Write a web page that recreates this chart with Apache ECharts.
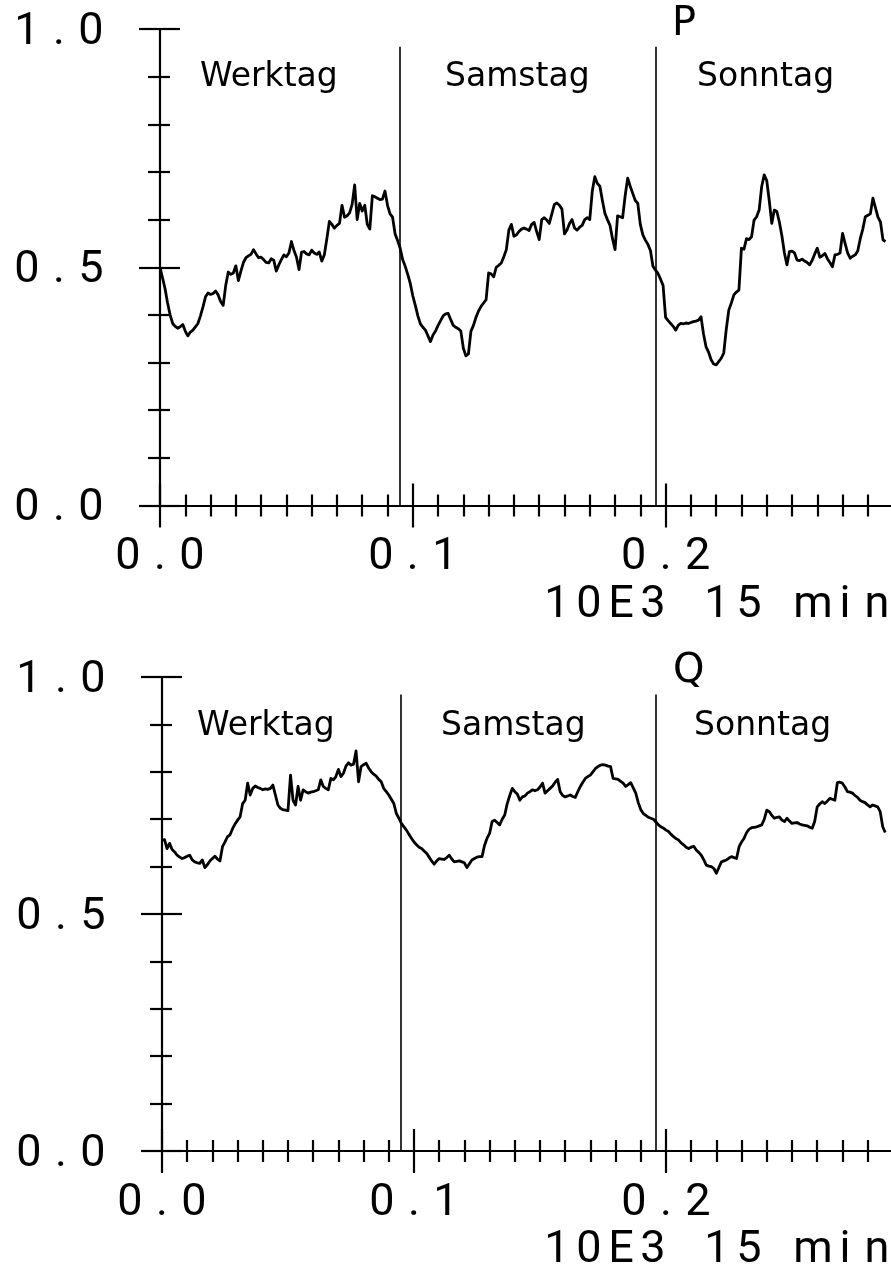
<!DOCTYPE html>
<html>
<head>
<meta charset="utf-8">
<script src="https://cdn.jsdelivr.net/npm/echarts@6/dist/echarts.min.js"></script>
<style>
  html, body { margin: 0; padding: 0; background: #fff; }
  #chart { width: 891px; height: 1271px; }
</style>
</head>
<body>
<div id="chart"></div>
<script>
// Normalised load profile, one value per quarter hour over three days (P: active, Q: reactive)
const seriesP = [
  0.500,0.478,0.455,0.425,0.400,0.382,0.376,0.372,0.375,0.380,0.366,0.356,
  0.364,0.368,0.375,0.382,0.398,0.417,0.438,0.446,0.443,0.445,0.450,0.442,
  0.428,0.420,0.462,0.490,0.485,0.488,0.503,0.472,0.492,0.510,0.520,0.524,
  0.527,0.537,0.528,0.520,0.521,0.516,0.510,0.509,0.518,0.515,0.492,0.505,
  0.516,0.526,0.522,0.530,0.554,0.535,0.521,0.495,0.532,0.533,0.528,0.526,
  0.536,0.530,0.527,0.532,0.513,0.526,0.560,0.596,0.590,0.582,0.588,0.592,
  0.630,0.605,0.608,0.614,0.632,0.673,0.600,0.634,0.618,0.630,0.590,0.580,
  0.650,0.648,0.645,0.642,0.643,0.660,0.630,0.612,0.605,0.570,0.556,0.540,
  0.516,0.502,0.485,0.466,0.440,0.420,0.398,0.381,0.374,0.368,0.356,0.344,
  0.358,0.366,0.378,0.388,0.398,0.402,0.403,0.390,0.378,0.374,0.371,0.366,
  0.330,0.314,0.318,0.366,0.378,0.395,0.408,0.418,0.425,0.432,0.488,0.486,
  0.480,0.500,0.504,0.509,0.522,0.537,0.578,0.590,0.565,0.568,0.575,0.580,
  0.582,0.580,0.577,0.590,0.594,0.575,0.558,0.600,0.604,0.599,0.592,0.612,
  0.632,0.635,0.630,0.622,0.570,0.578,0.592,0.600,0.582,0.578,0.584,0.588,
  0.600,0.604,0.600,0.660,0.690,0.676,0.670,0.640,0.613,0.600,0.588,0.560,
  0.537,0.608,0.606,0.604,0.650,0.687,0.670,0.655,0.640,0.634,0.590,0.568,
  0.557,0.548,0.535,0.502,0.494,0.487,0.475,0.462,0.395,0.388,0.382,0.376,
  0.368,0.378,0.382,0.381,0.383,0.382,0.384,0.386,0.387,0.389,0.396,0.360,
  0.333,0.322,0.306,0.297,0.295,0.302,0.309,0.320,0.370,0.410,0.425,0.442,
  0.448,0.452,0.540,0.538,0.560,0.558,0.564,0.599,0.606,0.620,0.669,0.694,
  0.682,0.640,0.592,0.620,0.617,0.595,0.566,0.530,0.505,0.533,0.534,0.530,
  0.515,0.514,0.517,0.513,0.510,0.505,0.515,0.528,0.540,0.521,0.524,0.529,
  0.518,0.510,0.501,0.526,0.527,0.530,0.571,0.550,0.530,0.519,0.523,0.526,
  0.534,0.560,0.580,0.606,0.609,0.612,0.645,0.625,0.605,0.595,0.557,0.554
];

const seriesQ = [
  0.656,0.657,0.638,0.649,0.636,0.631,0.624,0.620,0.617,0.619,0.622,0.624,
  0.614,0.610,0.608,0.607,0.614,0.598,0.604,0.612,0.617,0.622,0.616,0.612,
  0.642,0.652,0.663,0.667,0.680,0.690,0.698,0.705,0.733,0.740,0.776,0.751,
  0.765,0.770,0.767,0.765,0.762,0.764,0.763,0.765,0.772,0.751,0.730,0.723,
  0.720,0.719,0.718,0.793,0.740,0.730,0.769,0.740,0.762,0.758,0.755,0.757,
  0.758,0.760,0.762,0.783,0.769,0.765,0.762,0.786,0.783,0.790,0.805,0.790,
  0.797,0.812,0.819,0.814,0.816,0.844,0.779,0.811,0.815,0.818,0.808,0.800,
  0.795,0.791,0.784,0.779,0.765,0.758,0.751,0.742,0.733,0.712,0.702,0.691,
  0.684,0.677,0.668,0.660,0.652,0.646,0.641,0.638,0.633,0.628,0.620,0.612,
  0.605,0.612,0.617,0.616,0.615,0.619,0.624,0.616,0.610,0.611,0.612,0.610,
  0.608,0.598,0.606,0.614,0.617,0.620,0.621,0.621,0.645,0.660,0.670,0.695,
  0.698,0.693,0.688,0.700,0.709,0.733,0.750,0.765,0.758,0.753,0.740,0.747,
  0.749,0.755,0.758,0.762,0.760,0.762,0.768,0.776,0.755,0.760,0.765,0.770,
  0.778,0.784,0.758,0.750,0.747,0.749,0.751,0.748,0.746,0.758,0.769,0.778,
  0.786,0.790,0.793,0.800,0.807,0.811,0.814,0.815,0.814,0.812,0.811,0.786,
  0.785,0.784,0.780,0.776,0.769,0.773,0.777,0.766,0.755,0.735,0.720,0.712,
  0.708,0.704,0.702,0.700,0.694,0.688,0.684,0.681,0.677,0.674,0.668,0.663,
  0.659,0.656,0.650,0.646,0.641,0.638,0.641,0.643,0.635,0.630,0.624,0.614,
  0.603,0.601,0.600,0.596,0.586,0.598,0.610,0.612,0.614,0.618,0.621,0.619,
  0.617,0.642,0.652,0.660,0.672,0.679,0.682,0.683,0.684,0.686,0.688,0.700,
  0.719,0.716,0.708,0.702,0.704,0.705,0.698,0.695,0.702,0.696,0.691,0.692,
  0.693,0.690,0.688,0.687,0.686,0.683,0.681,0.695,0.726,0.732,0.737,0.733,
  0.738,0.744,0.742,0.740,0.777,0.778,0.776,0.768,0.758,0.757,0.755,0.750,
  0.746,0.740,0.737,0.735,0.730,0.726,0.730,0.728,0.726,0.716,0.684,0.672
];

// x is counted in units of 10E3 quarter hours
const quarterHour = 0.001;
const dayBreaks = [0.0947, 0.196];
const dayBreakTop = 0.963;
const dayNames = ['Werktag', 'Samstag', 'Sonntag'];
const panelNames = ['P', 'Q'];
const unitLabel = '10E3 15 min';

const INK = '#000';

// wide, evenly pitched characters in the style of a pen plotter
function spaced(str) {
  return str.split('').map(ch => '{c|' + ch + '}').join('');
}
const digitRich = {
  c: { width: 32, align: 'center', fontFamily: 'Roboto', fontWeight: 400,
       fontSize: 45, lineHeight: 45, color: INK }
};

const panels = [
  { values: seriesP, name: panelNames[0],
    grid: { left: 160, top: 29, width: 758.4, height: 476.5 },
    nameX: 672, nameY: 25, dayY: 77.5, dayX: [200, 445, 697], unitY: 606 },
  { values: seriesQ, name: panelNames[1],
    grid: { left: 162, top: 677, width: 756, height: 474 },
    nameX: 673, nameY: 672, dayY: 726.5, dayX: [197, 441, 694], unitY: 1251 }
];

const grids = [], xAxes = [], yAxes = [], series = [], graphics = [];

panels.forEach((p, k) => {
  grids.push(Object.assign({ outerBoundsMode: 'none', containLabel: false }, p.grid));

  const xBase = {
    type: 'value', gridIndex: k, position: 'bottom', min: 0, max: 0.3, interval: 0.1,
    splitLine: { show: false }
  };
  // outer x axis: line, labels, ticks pointing down
  xAxes.push(Object.assign({}, xBase, {
    axisLine: { show: true, onZero: false, lineStyle: { color: INK, width: 2.2 } },
    axisTick: { show: true, inside: false, length: 22, lineStyle: { color: INK, width: 2.2 } },
    minorTick: { show: true, splitNumber: 10, length: 11, lineStyle: { color: INK, width: 2.2 } },
    axisLabel: { show: true, margin: 30, showMaxLabel: false,
                 formatter: v => spaced(v.toFixed(1)), rich: digitRich }
  }));
  // inner x axis: ticks pointing up so they cross the axis line
  xAxes.push(Object.assign({}, xBase, {
    axisLine: { show: false, onZero: false },
    axisTick: { show: true, inside: true, length: 22, lineStyle: { color: INK, width: 2.2 } },
    minorTick: { show: true, splitNumber: 10, length: 11, lineStyle: { color: INK, width: 2.2 } },
    axisLabel: { show: false }
  }));

  const yBase = {
    type: 'value', gridIndex: k, position: 'left', min: 0, max: 1, interval: 0.5,
    splitLine: { show: false }
  };
  yAxes.push(Object.assign({}, yBase, {
    axisLine: { show: true, onZero: false, lineStyle: { color: INK, width: 2.2 } },
    axisTick: { show: true, inside: false, length: 21, lineStyle: { color: INK, width: 2.2 } },
    minorTick: { show: true, splitNumber: 5, length: 12, lineStyle: { color: INK, width: 2.2 } },
    axisLabel: { show: true, margin: 53, padding: [7, 0, 0, 0],
                 formatter: v => spaced(v.toFixed(1)), rich: digitRich }
  }));
  yAxes.push(Object.assign({}, yBase, {
    axisLine: { show: false, onZero: false },
    axisTick: { show: true, inside: true, length: 20, lineStyle: { color: INK, width: 2.2 } },
    minorTick: { show: true, splitNumber: 5, length: 10, lineStyle: { color: INK, width: 2.2 } },
    axisLabel: { show: false }
  }));

  series.push({
    type: 'line',
    name: p.name,
    xAxisIndex: 2 * k,
    yAxisIndex: 2 * k,
    data: p.values.map((v, i) => [i * quarterHour, v]),
    showSymbol: false,
    symbol: 'none',
    lineStyle: { color: INK, width: 2.8, join: 'round' },
    silent: true,
    markLine: {
      silent: true,
      symbol: ['none', 'none'],
      label: { show: false },
      lineStyle: { color: INK, width: 1.6, type: 'solid' },
      data: dayBreaks.map(x => [{ coord: [x, 0] }, { coord: [x, dayBreakTop] }])
    }
  });

  dayNames.forEach((d, j) => {
    graphics.push({
      type: 'text', x: p.dayX[j], y: p.dayY, silent: true,
      style: { text: d, fill: INK, fontFamily: 'DejaVu Sans', fontSize: 33,
               align: 'left', verticalAlign: 'middle' }
    });
  });
  graphics.push({
    type: 'text', x: p.nameX, y: p.nameY, silent: true,
    style: { text: p.name, fill: INK, fontFamily: 'DejaVu Sans', fontSize: 40,
             align: 'left', verticalAlign: 'middle' }
  });
  graphics.push({
    type: 'text', x: 541, y: p.unitY, silent: true,
    style: { text: spaced(unitLabel), rich: digitRich, align: 'left', verticalAlign: 'middle' }
  });
});

const chart = echarts.init(document.getElementById('chart'), null, { renderer: 'canvas' });
chart.setOption({
  animation: false,
  backgroundColor: '#fff',
  grid: grids,
  xAxis: xAxes,
  yAxis: yAxes,
  series: series,
  graphic: graphics
});
</script>
</body>
</html>
